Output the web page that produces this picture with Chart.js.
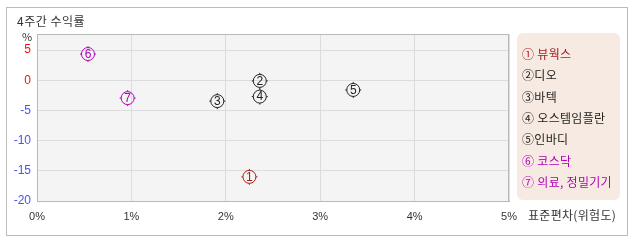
<!DOCTYPE html>
<html>
<head>
<meta charset="utf-8">
<script src="https://cdn.jsdelivr.net/npm/chart.js@4"></script>
<style>
  body { margin: 0; background: #fff; font-family: "Noto Sans CJK KR", sans-serif; }
  #wrap { position: relative; width: 638px; height: 242px; }
  #frame { position: absolute; left: 6px; top: 7px; width: 620px; height: 227px; border: 1px solid #bbb; }
  #chart { position: absolute; left: 0; top: 0; }
  .txt { position: absolute; font-size: 12px; line-height: 14px; color: #333; white-space: nowrap; }
  #legend { position: absolute; left: 517px; top: 33px; width: 103px; height: 167px; background: #f6eae3; border-radius: 6px; }
  #legend div { position: absolute; left: 5px; font-size: 12px; line-height: 14px; white-space: nowrap; letter-spacing: 0.3px; }
</style>
</head>
<body>
<div id="wrap">
  <div id="frame"></div>
  <canvas id="chart" width="638" height="242"></canvas>
  <div class="txt" id="title" style="left:17px;top:14px;letter-spacing:0.5px;">4주간 수익률</div>
  <div class="txt" style="left:22px;top:29px;font-size:11px;">%</div>
  <div class="txt" style="left:528px;top:208px;letter-spacing:0.3px;">표준편차(위험도)</div>
  <div id="legend"></div>
</div>
<script>
const names = ["① 뷰웍스", "②디오", "③바텍", "④ 오스템임플란", "⑤인바디", "⑥ 코스닥", "⑦ 의료, 정밀기기"];
const stdev = [2.25, 2.36, 1.91, 2.36, 3.35, 0.54, 0.96];
const returns = [-16.0, -0.1, -3.45, -2.7, -1.6, 4.35, -2.95];
const colors = ["#a81c1c", "#222222", "#222222", "#222222", "#222222", "#b000b8", "#b000b8"];
const xTicks = [0, 1, 2, 3, 4, 5];
const yTicks = [-20, -15, -10, -5, 0, 5];

const legend = document.querySelector("#legend");
names.forEach((n, i) => {
  const d = document.createElement("div");
  d.textContent = n;
  d.style.top = (14 + i * 21.3) + "px";
  d.style.color = colors[i];
  legend.appendChild(d);
});

const plotBox = {
  id: "plotBox",
  beforeDraw(chart) {
    const a = chart.chartArea;
    chart.ctx.save();
    chart.ctx.fillStyle = "#f4f4f4";
    chart.ctx.fillRect(a.left, a.top, a.right - a.left, a.bottom - a.top);
    chart.ctx.restore();
  },
  beforeDatasetsDraw(chart) {
    const a = chart.chartArea;
    const ctx = chart.ctx;
    ctx.save();
    ctx.strokeStyle = "#b8b8b8";
    ctx.lineWidth = 1;
    ctx.strokeRect(a.left + 0.5, a.top + 0.5, a.right - a.left - 1, a.bottom - a.top);
    ctx.restore();
  },
  afterDatasetsDraw(chart) {
    const ctx = chart.ctx;
    const meta = chart.getDatasetMeta(0);
    ctx.save();
    ctx.font = "12px 'Liberation Sans'";
    ctx.textAlign = "center";
    ctx.textBaseline = "middle";
    meta.data.forEach((pt, i) => {
      ctx.fillStyle = colors[i];
      ctx.fillText(String(i + 1), pt.x, pt.y + 0.5);
      ctx.strokeStyle = colors[i];
      ctx.lineWidth = 1;
      ctx.beginPath();
      ctx.moveTo(pt.x, pt.y - 6.5); ctx.lineTo(pt.x, pt.y - 8);
      ctx.moveTo(pt.x, pt.y + 6.5); ctx.lineTo(pt.x, pt.y + 8);
      ctx.moveTo(pt.x - 6.5, pt.y); ctx.lineTo(pt.x - 8, pt.y);
      ctx.moveTo(pt.x + 6.5, pt.y); ctx.lineTo(pt.x + 8, pt.y);
      ctx.stroke();
    });
    ctx.restore();
  }
};

new Chart(document.querySelector("#chart"), {
  type: "scatter",
  data: {
    datasets: [{
      data: stdev.map((x, i) => ({ x: x, y: returns[i] })),
      pointStyle: "circle",
      pointRadius: 6.5,
      pointHoverRadius: 6.5,
      pointBorderWidth: 1,
      pointBorderColor: colors,
      pointBackgroundColor: "rgba(0,0,0,0)",
    }],
  },
  options: {
    responsive: false,
    animation: false,
    events: [],
    layout: { padding: { left: 0, top: 34, right: 129, bottom: 0 } },
    plugins: { legend: { display: false }, tooltip: { enabled: false } },
    scales: {
      x: {
        type: "linear",
        min: 0,
        max: 5,
        afterFit: (s) => { s.height = 41; },
        afterBuildTicks: (s) => { s.ticks = xTicks.map((v) => ({ value: v })); },
        grid: { color: "#dcdcdc", drawTicks: false },
        border: { color: "#b8b8b8" },
        ticks: {
          padding: 9,
          color: "#333",
          font: { family: "Liberation Sans", size: 11 },
          callback: (v) => v + "%",
        },
      },
      y: {
        min: -20,
        max: 7.67,
        afterFit: (s) => { s.width = 37; },
        afterBuildTicks: (s) => { s.ticks = yTicks.map((v) => ({ value: v })); },
        grid: { color: "#dcdcdc", drawTicks: false },
        border: { color: "#b8b8b8" },
        ticks: {
          padding: 6,
          font: { family: "Liberation Sans", size: 12 },
          color: (c) => (c.tick.value >= 0 ? "#ee1111" : "#4455ee"),
        },
      },
    },
  },
  plugins: [plotBox],
});
</script>
</body>
</html>
